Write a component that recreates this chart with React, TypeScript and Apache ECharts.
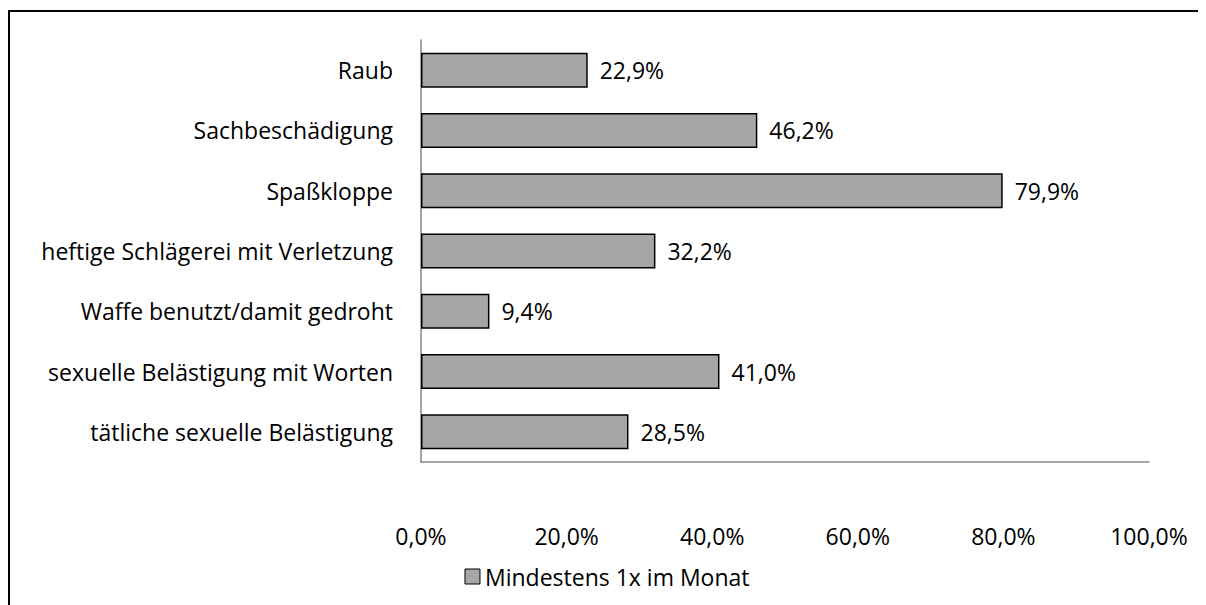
import React, { useEffect, useRef } from "react";
import * as echarts from "echarts";

const categories = [
  "Raub",
  "Sachbeschädigung",
  "Spaßkloppe",
  "heftige Schlägerei mit Verletzung",
  "Waffe benutzt/damit gedroht",
  "sexuelle Belästigung mit Worten",
  "tätliche sexuelle Belästigung",
];
const values = [22.9, 46.2, 79.9, 32.2, 9.4, 41.0, 28.5];
const seriesName = "Mindestens 1x im Monat";
const xTicks = [0, 20, 40, 60, 80, 100];

const FONT = "'Open Sans', 'Noto Sans', sans-serif";
const FS = 23;

export default function App() {
  const ref = useRef<HTMLDivElement>(null);
  useEffect(() => {
    if (!ref.current) return;
    const chart = echarts.init(ref.current, undefined, { renderer: "svg" });
    chart.setOption({
      animation: false,
      backgroundColor: "#ffffff",
      textStyle: { fontFamily: FONT },
      graphic: [
        {
          type: "line",
          shape: { x1: 0, y1: 3, x2: 1198, y2: 3 },
          style: { stroke: "#000", lineWidth: 2 },
        },
        {
          type: "line",
          shape: { x1: 1, y1: 2, x2: 1, y2: 597 },
          style: { stroke: "#000", lineWidth: 2 },
        },
      ],
      grid: { left: 413, right: 57, top: 32, bottom: 143 },
      legend: {
        data: [seriesName],
        bottom: 12,
        left: "center",
        itemWidth: 15,
        itemHeight: 15,
        itemGap: 4,
        icon: "rect",
        textStyle: { fontSize: FS, color: "#000", fontFamily: FONT },
        itemStyle: { color: "#a6a6a6", borderColor: "#000", borderWidth: 1 },
      },
      xAxis: {
        type: "value",
        min: xTicks[0],
        max: xTicks[xTicks.length - 1],
        interval: 20,
        axisLine: { show: true, lineStyle: { color: "#868686", width: 1.5 } },
        axisTick: { show: false },
        splitLine: { show: false },
        axisLabel: {
          margin: 62,
          fontSize: FS,
          color: "#000",
          fontFamily: FONT,
          formatter: (v: number) => v.toFixed(1).replace(".", ",") + "%",
        },
      },
      yAxis: {
        type: "category",
        data: categories,
        inverse: true,
        axisLine: { show: true, lineStyle: { color: "#868686", width: 1.5 } },
        axisTick: { show: false },
        axisLabel: { margin: 28, fontSize: FS, color: "#000", fontFamily: FONT },
      },
      series: [
        {
          name: seriesName,
          type: "bar",
          data: values,
          barWidth: "58%",
          itemStyle: { color: "#a6a6a6", borderColor: "#000", borderWidth: 1.5 },
          label: {
            show: true,
            position: "right",
            distance: 12,
            fontSize: FS,
            color: "#000",
            fontFamily: FONT,
            formatter: (p: any) => p.value.toFixed(1).replace(".", ",") + "%",
          },
        },
      ],
    });
    return () => chart.dispose();
  }, []);
  return <div ref={ref} style={{ width: 1198, height: 597 }} />;
}
